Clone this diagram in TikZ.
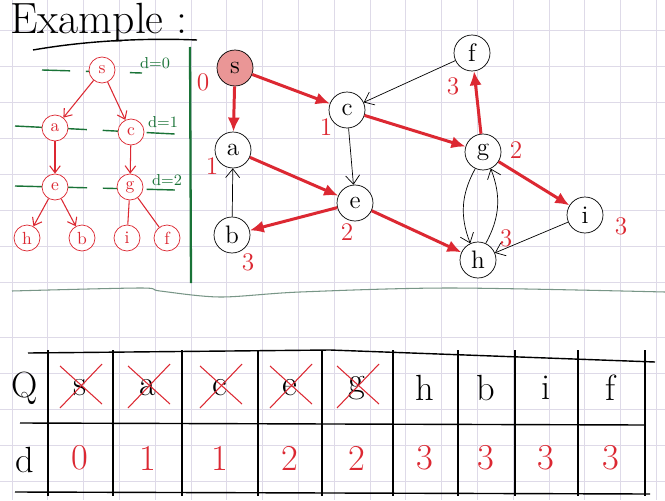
\documentclass[tikz,border=0pt]{standalone}
\usepackage{tikz}
\usetikzlibrary{arrows.meta, positioning, calc}

\definecolor{penred}{RGB}{220,40,50}
\definecolor{pengreen}{RGB}{25,115,55}
\definecolor{gridcol}{RGB}{222,218,232}
\definecolor{sepcol}{RGB}{120,150,135}
\definecolor{sfill}{RGB}{234,150,150}

\begin{document}
\begin{tikzpicture}[x=0.02cm, y=-0.02cm,
  gnode/.style={circle, draw=black, thin, fill=white, minimum size=0.72cm, inner sep=0pt, font=\Large},
  tnode/.style={circle, draw=penred, thin, fill=white, minimum size=0.52cm, inner sep=0pt, font=\normalsize, text=penred},
  redarr/.style={-{Latex[length=8pt,width=7pt]}, penred, line width=1.7pt},
  blkarr/.style={-{Straight Barb[length=5pt,width=8pt]}, black, thin},
  treearr/.style={-{Straight Barb[length=4pt,width=6pt]}, penred, semithick},
  lvl/.style={pengreen, thick, dash pattern=on 16pt off 9pt},
  dist/.style={text=penred, font=\Large},
  cell/.style={font=\huge, inner sep=1pt},
  cross/.style={penred, semithick}]

\fill[white] (0,0) rectangle (665,500);
\useasboundingbox (0,0) rectangle (665,500);

% paper grid
\foreach \k in {0,...,18} \draw[gridcol] (12+35.8*\k,0) -- (12+35.8*\k,500);
\foreach \k in {0,...,7} \draw[gridcol] (0,30+36*\k) -- (665,30+36*\k);
\foreach \k in {0,...,4} \draw[gridcol] (0,337+36*\k) -- (665,337+36*\k);
\draw[sepcol, semithick] plot[smooth] coordinates {(12,291) (140,288) (160,291) (220,297) (300,292) (450,288) (665,292)};

% Title
\node[font=\Huge, anchor=west] (title) at (4,23) {Example :};
\draw[thick] (33,50) .. controls (90,40) and (150,38) .. (197,40);
\draw[pengreen, line width=1.3pt] (190,47) -- (191,283);

% BFS tree
\draw[lvl] (42,70) -- (142,73);
\draw[lvl] (15,126) -- (175,134);
\draw[lvl] (15,186) -- (175,190);
\node[text=pengreen, font=\small] (lvl0) at (155,63) {d=0};
\node[text=pengreen, font=\small] (lvl1) at (163,122) {d=1};
\node[text=pengreen, font=\small] (lvl2) at (167,180) {d=2};
\node[tnode] (ts) at (102,70) {s};
\node[tnode] (ta) at (55,128) {a};
\node[tnode] (tc) at (131,132) {c};
\node[tnode] (te) at (55,187) {e};
\node[tnode] (tg) at (130,187) {g};
\node[tnode] (th) at (27,238) {h};
\node[tnode] (tb) at (82,238) {b};
\node[tnode] (ti) at (127,238) {i};
\node[tnode] (tf) at (167,238) {f};
\draw[treearr] (ts) -- (ta);
\draw[treearr] (ts) -- (tc);
\draw[treearr] (ta) -- (te);
\draw[treearr] (tc) -- (tg);
\draw[treearr] (te) -- (th);
\draw[treearr] (te) -- (tb);
\draw[penred, semithick] (tg) -- (ti);
\draw[penred, semithick] (tg) -- (tf);

% Graph
\node[gnode, fill=sfill] (s) at (235,68) {s};
\node[gnode] (c) at (347,110) {c};
\node[gnode] (a) at (233,150) {a};
\node[gnode] (e) at (355,203) {e};
\node[gnode] (b) at (232,235) {b};
\node[gnode] (f) at (472,53) {f};
\node[gnode] (g) at (483,152) {g};
\node[gnode] (i) at (585,215) {i};
\node[gnode] (h) at (478,260) {h};
\node[dist] (ds) at (203,82) {0};
\node[dist] (dc) at (326,127) {1};
\node[dist] (da) at (212,166) {1};
\node[dist] (de) at (347,232) {2};
\node[dist] (db) at (248,262) {3};
\node[dist] (df) at (453,86) {3};
\node[dist] (dg) at (516,150) {2};
\node[dist] (di) at (621,226) {3};
\node[dist] (dh) at (506,238) {3};
\draw[redarr] (s) -- (c);
\draw[redarr] (s) -- (a);
\draw[redarr] (a) -- (e);
\draw[redarr] (e) -- (b);
\draw[redarr] (e) -- (h);
\draw[redarr] (c) -- (g);
\draw[redarr] (g) -- (f);
\draw[redarr] (g) -- (i);
\draw[blkarr] (c) -- (e);
\draw[blkarr] (b) -- (a);
\draw[blkarr] (f) -- (c);
\draw[blkarr] (i) -- (h);
\draw[blkarr] (g.245) to[bend right=25] (h.115);
\draw[blkarr] (h.65) to[bend right=25] (g.295);

% Queue table
\begin{scope}
\draw[thick] (28,353) -- (330,350) -- (655,362);
\draw[thick] (20,423) -- (645,425);
\draw[thick] (15,492) -- (650,494);
\foreach \x in {48,113,182,258,322,393,458,515,578,645}
  \draw[semithick] (\x,350) -- (\x,496);
\node[font=\huge] (qlab) at (25,388) {Q};
\node[font=\huge] (dlab) at (25,460) {d};
\foreach \v/\x [count=\i] in {s/80,a/148,c/220,e/290,g/357,h/425,b/486,i/546,f/611}
  \node[cell] (q\i) at (\x,388) {\v};
\foreach \v/\x [count=\i] in {0/80,1/148,1/220,2/290,2/357,3/425,3/486,3/546,3/611}
  \node[cell, text=penred] (d\i) at (\x,458) {\v};
\foreach \i in {1,...,5} {
  \draw[cross] ($(q\i.center)+(-20,20)$) -- ($(q\i.center)+(22,-24)$);
  \draw[cross] ($(q\i.center)+(-20,-22)$) -- ($(q\i.center)+(22,16)$);
}
\end{scope}
\end{tikzpicture}
\end{document}
